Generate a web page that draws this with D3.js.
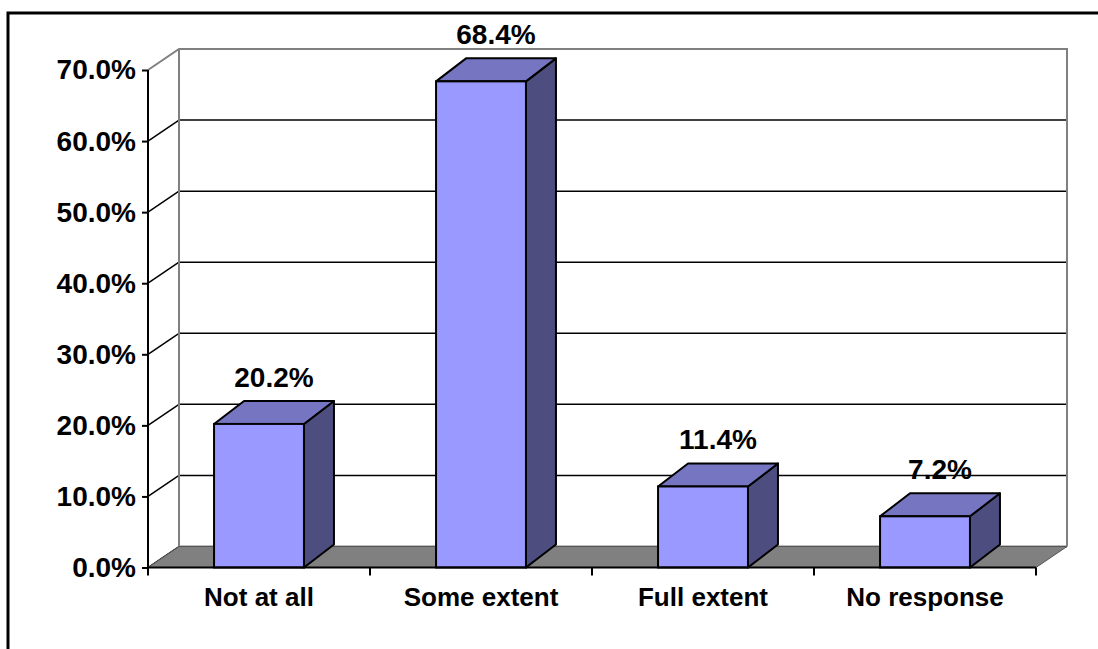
<!DOCTYPE html>
<html>
<head>
<meta charset="utf-8">
<script src="https://cdnjs.cloudflare.com/ajax/libs/d3/7.8.5/d3.min.js"></script>
<style>
  body { margin: 0; background: #fff; }
  svg { display: block; }
  text { font-family: "Liberation Sans", Arial, sans-serif; font-weight: bold; fill: #000; }
</style>
</head>
<body>
<script>
const categories = ['Not at all', 'Some extent', 'Full extent', 'No response'];
const values = [20.2, 68.4, 11.4, 7.2];
const yTicks = [0, 10, 20, 30, 40, 50, 60, 70];

const width = 1098, height = 649;
// 3D depth offsets (walls and bars)
const wallDx = 31, wallDy = -21;
const barDx = 30, barDy = -23;

const svg = d3.select('body').append('svg')
    .attr('width', width)
    .attr('height', height);

// outer chart border
svg.append('rect')
    .attr('x', 8).attr('y', 13)
    .attr('width', 1200).attr('height', 800)
    .attr('fill', 'none').attr('stroke', '#000').attr('stroke-width', 3);

const y = d3.scaleLinear().domain([0, 70]).range([567.5, 70]);
const x = d3.scaleBand().domain(categories).range([148, 1036]).padding(0);
const barW = x.bandwidth() * 0.405;
const x0 = x.range()[0], x1 = x.range()[1];
const yMax = yTicks[yTicks.length - 1];

const g = svg.append('g');

// back wall gridlines
g.selectAll('line.grid')
    .data(yTicks.slice(0, -1))
    .join('line')
    .attr('class', 'grid')
    .attr('x1', x0 + wallDx).attr('x2', x1 + wallDx)
    .attr('y1', d => y(d) + wallDy).attr('y2', d => y(d) + wallDy)
    .attr('stroke', '#000').attr('stroke-width', 1.5);

// side wall gridlines
g.selectAll('line.side')
    .data(yTicks.slice(0, -1))
    .join('line')
    .attr('class', 'side')
    .attr('x1', x0).attr('x2', x0 + wallDx)
    .attr('y1', d => y(d)).attr('y2', d => y(d) + wallDy)
    .attr('stroke', '#000').attr('stroke-width', 1.5);

// wall outline (grey)
g.append('path')
    .attr('d', `M${x0},${y(yMax)} L${x0 + wallDx},${y(yMax) + wallDy} L${x1 + wallDx},${y(yMax) + wallDy} L${x1 + wallDx},${y(0) + wallDy}`)
    .attr('fill', 'none').attr('stroke', '#808080').attr('stroke-width', 2);
g.append('line')
    .attr('x1', x0 + wallDx).attr('x2', x0 + wallDx)
    .attr('y1', y(yMax) + wallDy).attr('y2', y(0) + wallDy)
    .attr('stroke', '#808080').attr('stroke-width', 2);

// floor
g.append('path')
    .attr('d', `M${x0},${y(0)} L${x0 + wallDx},${y(0) + wallDy} L${x1 + wallDx},${y(0) + wallDy} L${x1},${y(0)} Z`)
    .attr('fill', '#808080').attr('stroke', '#555').attr('stroke-width', 1);

// bars
const bars = g.selectAll('g.bar')
    .data(categories.map((c, i) => ({ c, v: values[i] })))
    .join('g')
    .attr('class', 'bar');

bars.each(function (d) {
    const bx = x(d.c) + (x.bandwidth() - barW) / 2;
    const by = y(d.v), b0 = y(0);
    const el = d3.select(this);
    el.append('path') // side
        .attr('d', `M${bx + barW},${by} L${bx + barW + barDx},${by + barDy} L${bx + barW + barDx},${b0 + barDy} L${bx + barW},${b0} Z`)
        .attr('fill', '#4d4d80').attr('stroke', '#000').attr('stroke-width', 2).attr('stroke-linejoin', 'round');
    el.append('path') // top
        .attr('d', `M${bx},${by} L${bx + barDx},${by + barDy} L${bx + barW + barDx},${by + barDy} L${bx + barW},${by} Z`)
        .attr('fill', '#7575c2').attr('stroke', '#000').attr('stroke-width', 2).attr('stroke-linejoin', 'round');
    el.append('rect') // front
        .attr('x', bx).attr('y', by)
        .attr('width', barW).attr('height', b0 - by)
        .attr('fill', '#9999ff').attr('stroke', '#000').attr('stroke-width', 2);
    el.append('text')
        .attr('x', bx + barW / 2 + barDx / 2)
        .attr('y', by - 37)
        .attr('text-anchor', 'middle')
        .attr('font-size', 28)
        .text(d.v.toFixed(1) + '%');
});

// y axis
const yAxis = d3.axisLeft(y)
    .tickValues(yTicks)
    .tickSize(6)
    .tickPadding(6)
    .tickFormat(d => d.toFixed(1) + '%');
const ya = svg.append('g')
    .attr('transform', `translate(${x0},0)`)
    .call(yAxis);
ya.select('.domain').remove();
ya.selectAll('line').attr('stroke', '#000').attr('stroke-width', 2);
ya.selectAll('text')
    .attr('font-size', 28)
    .style('font-family', '"Liberation Sans", Arial, sans-serif')
    .style('font-weight', 'bold');
svg.append('line')
    .attr('x1', x0).attr('x2', x0)
    .attr('y1', y(yMax)).attr('y2', y(0) + 8)
    .attr('stroke', '#000').attr('stroke-width', 2);

// x axis
svg.append('line')
    .attr('x1', x0).attr('x2', x1)
    .attr('y1', y(0)).attr('y2', y(0))
    .attr('stroke', '#000').attr('stroke-width', 2);
svg.selectAll('line.xtick')
    .data(categories.slice(1).map(c => x(c)).concat([x1]))
    .join('line')
    .attr('class', 'xtick')
    .attr('x1', d => d).attr('x2', d => d)
    .attr('y1', y(0)).attr('y2', y(0) + 8)
    .attr('stroke', '#000').attr('stroke-width', 2);
svg.selectAll('text.cat')
    .data(categories)
    .join('text')
    .attr('class', 'cat')
    .attr('x', d => x(d) + x.bandwidth() / 2)
    .attr('y', 606)
    .attr('text-anchor', 'middle')
    .attr('font-size', 26)
    .text(d => d);
</script>
</body>
</html>
